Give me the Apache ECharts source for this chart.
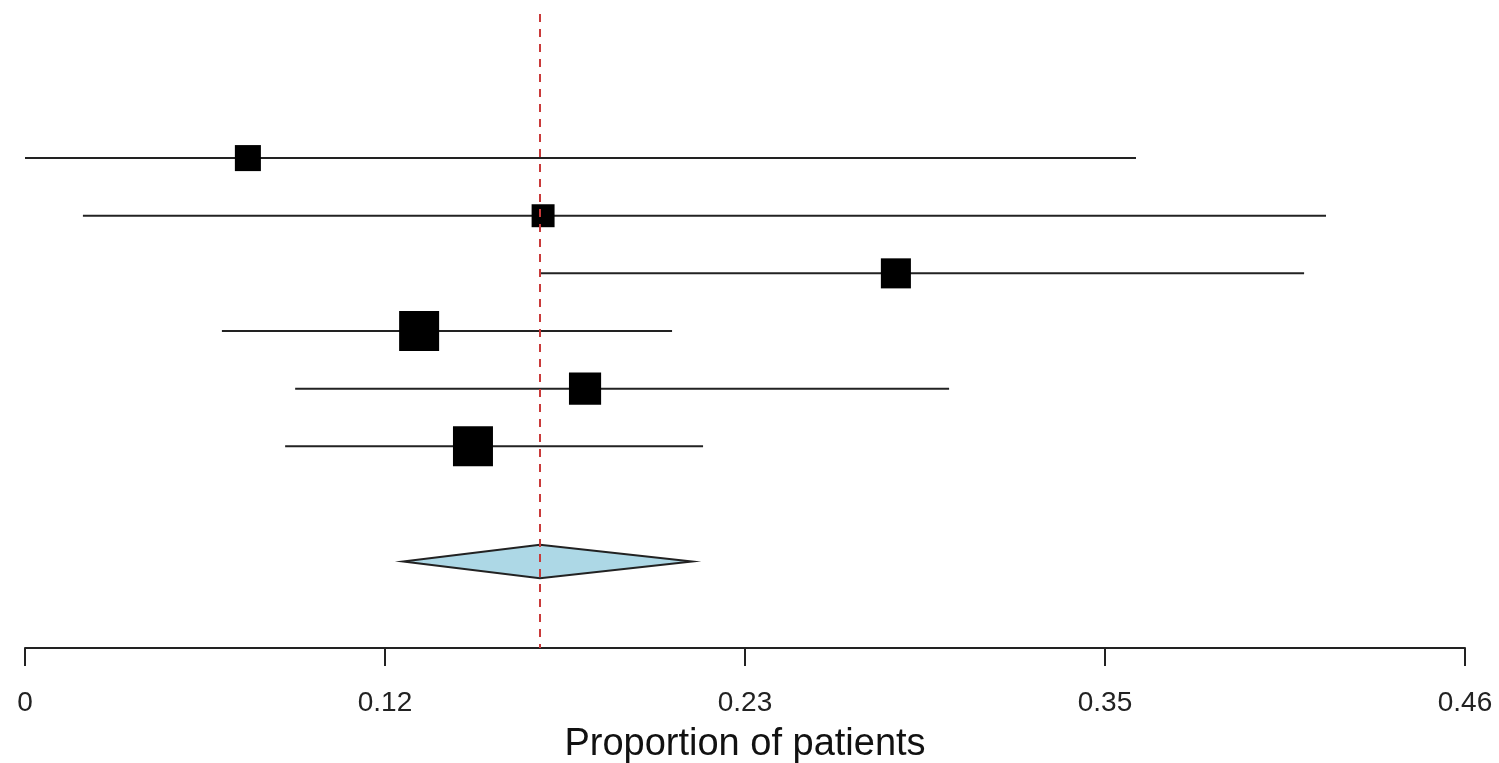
<!DOCTYPE html>
<html>
<head>
<meta charset="utf-8">
<script src="https://cdn.jsdelivr.net/npm/echarts@6/dist/echarts.min.js"></script>
<style>
html,body{margin:0;padding:0;background:#fff;}
#chart{width:1499px;height:763px;}
</style>
</head>
<body>
<div id="chart"></div>
<script>
// Study estimates (proportion of patients) and 95% CIs, top to bottom
var estimates = [0.0712, 0.1655, 0.2782, 0.1259, 0.1789, 0.1431];
var ciLower   = [0.0000, 0.0185, 0.1645, 0.0629, 0.0863, 0.0831];
var ciUpper   = [0.3549, 0.4156, 0.4086, 0.2067, 0.2952, 0.2166];
var weights   = [13.6, 12.0, 15.7, 20.9, 16.8, 20.9];
// Pooled estimate
var pooledEst = 0.1645;
var pooledLower = 0.1208;
var pooledUpper = 0.2131;
// Axis tick labels
var tickLabels = ["0", "0.12", "0.23", "0.35", "0.46"];
var axisMax = 0.46;

var rowY = estimates.map(function (_, i) { return i + 2.5; });
var pooledY = 9.5;
var maxW = Math.max.apply(null, weights);

var chart = echarts.init(document.getElementById('chart'), null, {renderer: 'canvas'});
var FONT = '"Liberation Sans", Arial, sans-serif';

chart.setOption({
  animation: false,
  backgroundColor: '#fff',
  grid: {left: 25, right: 34, top: 14, bottom: 115, containLabel: false, outerBoundsMode: 'none'},
  xAxis: {
    type: 'value',
    min: 0,
    max: axisMax,
    interval: axisMax / 4,
    axisLine: {show: true, onZero: false, lineStyle: {color: '#222', width: 2}},
    axisTick: {show: true, length: 18, lineStyle: {color: '#222', width: 2}},
    axisLabel: {
      margin: 41,
      fontSize: 28,
      fontFamily: FONT,
      color: '#222',
      formatter: function (v) {
        var idx = Math.round(v / (axisMax / 4));
        return tickLabels[idx] !== undefined ? tickLabels[idx] : '';
      }
    },
    splitLine: {show: false},
    name: 'Proportion of patients',
    nameLocation: 'middle',
    nameGap: 78,
    nameTextStyle: {fontSize: 38, fontFamily: FONT, color: '#111'}
  },
  yAxis: {
    type: 'value',
    min: 0,
    max: 11,
    inverse: true,
    show: false
  },
  series: [
    {
      type: 'custom',
      name: 'ci',
      data: estimates.map(function (e, i) { return [ciLower[i], ciUpper[i], rowY[i]]; }),
      renderItem: function (params, api) {
        var p1 = api.coord([api.value(0), api.value(2)]);
        var p2 = api.coord([api.value(1), api.value(2)]);
        return {
          type: 'line',
          shape: {x1: p1[0], y1: p1[1], x2: p2[0], y2: p2[1]},
          style: {stroke: '#222', lineWidth: 2}
        };
      },
      markLine: {
        silent: true,
        symbol: 'none',
        precision: 6,
        label: {show: false},
        lineStyle: {color: '#c93a3a', width: 2, type: [8, 7]},
        data: [{xAxis: pooledEst}]
      },
      z: 2
    },
    {
      type: 'scatter',
      name: 'est',
      symbol: 'rect',
      data: estimates.map(function (e, i) { return [e, rowY[i], weights[i]]; }),
      symbolSize: function (v) { return v[2] / maxW * 40; },
      itemStyle: {color: '#000', opacity: 1},
      z: 3
    },
    {
      type: 'custom',
      name: 'pooled',
      data: [[pooledLower, pooledEst, pooledUpper, pooledY]],
      renderItem: function (params, api) {
        var y = api.value(3);
        var l = api.coord([api.value(0), y]);
        var t = api.coord([api.value(1), y - 0.29]);
        var r = api.coord([api.value(2), y]);
        var b = api.coord([api.value(1), y + 0.29]);
        return {
          type: 'polygon',
          shape: {points: [l, t, r, b]},
          style: {fill: '#add8e6', stroke: '#222', lineWidth: 2}
        };
      },
      z: 4
    }
  ]
});
</script>
</body>
</html>
